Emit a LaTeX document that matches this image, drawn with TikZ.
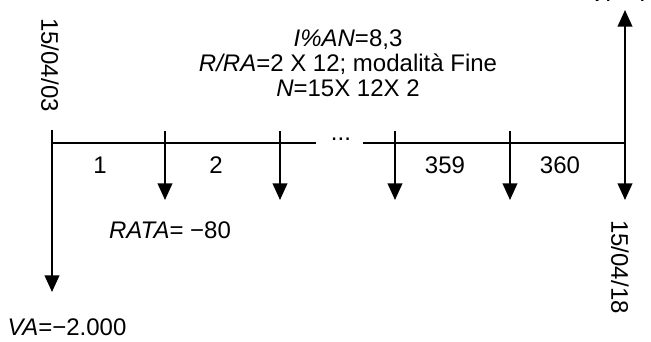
\documentclass[tikz,border=0pt]{standalone}
\usepackage{fontspec}
\setmainfont{Liberation Sans}
\usetikzlibrary{arrows.meta}

\tikzset{
  axis/.style={line width=1.4pt},
  flow/.style={axis, -{Triangle[width=11pt,length=12.5pt]}},
  lbl/.style={font=\fontsize{18}{18.75}\selectfont, inner sep=0pt},
  datelbl/.style={lbl, rotate=-90},
}

\begin{document}
\begin{tikzpicture}[x=0.75pt,y=-0.75pt]
  \useasboundingbox (0,0) rectangle (651,342);
  % points on the time line
  \coordinate (t0)   at (52,143);
  \coordinate (gapL) at (316,143);
  \coordinate (gapR) at (363,143);
  \coordinate (tN)   at (625,143);
  \coordinate (t0top) at (52,130);
  \coordinate (va)   at (52,292);
  \coordinate (vf)   at (625,10);
  \draw[axis] (t0) -- (gapL);
  \draw[axis] (gapR) -- (tN);
  \node[lbl] (dots) at (341,139) {...};
  % initial value
  \draw[flow] (t0top) -- (va);
  % rate
  \foreach \x/\n in {165/r1, 280/r2, 395/r359, 510/r360} {
    \coordinate (\n top) at (\x,131);
    \coordinate (\n end) at (\x,200);
    \draw[flow] (\n top) -- (\n end);
  }
  % final value
  \draw[flow] (tN) -- (vf);
  \coordinate (tNend) at (625,200);
  \draw[flow] (tN) -- (tNend);
  % labels
  \node[lbl] (p1)   at (100,165) {1};
  \node[lbl] (p2)   at (216,165) {2};
  \node[lbl] (p359) at (445,165) {359};
  \node[lbl] (p360) at (560,165) {360};
  \node[lbl] (rata) at (170,230) {\textit{RATA}= −80};
  \node[lbl] (valA) at (67,327) {\textit{VA}=−2.000};
  \node[lbl, anchor=base] (valF) at (620,1.5) {\textit{VF}=?};
  \node[datelbl] (d0) at (50,65) {15/04/03};
  \node[datelbl] (dN) at (620,267) {15/04/18};
  \node[lbl, align=center] (data) at (348,63)
    {\textit{I\%AN}=8,3\\ \textit{R/RA}=2 X 12; modalità Fine\\ \textit{N}=15X 12X 2};
\end{tikzpicture}
\end{document}
